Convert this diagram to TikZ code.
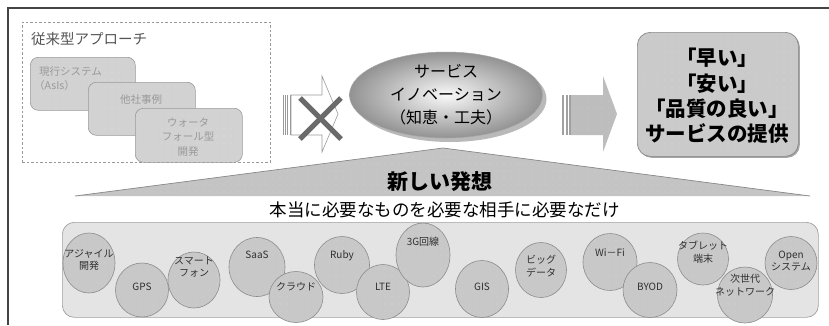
\documentclass[tikz,border=0pt]{standalone}
\usepackage{fontspec}
\setmainfont{Noto Sans CJK JP}
\usetikzlibrary{shapes.geometric,shadows,patterns.meta}
\definecolor{framec}{HTML}{444444}
\definecolor{dashc}{HTML}{999999}
\definecolor{lboxfill}{HTML}{D2D2D2}
\definecolor{lboxdraw}{HTML}{9A9A9A}
\definecolor{lboxtext}{HTML}{999999}
\definecolor{titlec}{HTML}{555555}
\definecolor{trifill}{HTML}{C4C4C4}
\definecolor{tridraw}{HTML}{888888}
\definecolor{basefill}{HTML}{E4E4E4}
\definecolor{basedraw}{HTML}{A0A0A0}
\definecolor{circfill}{HTML}{C8C8C8}
\definecolor{circdraw}{HTML}{8C8C8C}
\definecolor{circtext}{HTML}{303030}
\definecolor{resfill}{HTML}{CACACA}
\definecolor{resdraw}{HTML}{888888}
\definecolor{arrfill}{HTML}{BDBDBD}
\definecolor{xcol}{HTML}{6A6A6A}
\tikzset{
  dotty/.style={postaction={pattern={Dots[distance=7pt,radius=0.45pt]}, pattern color=white!85!gray}},
  lbox/.style={rounded corners=8pt, fill=lboxfill, draw=lboxdraw, line width=0.6pt, anchor=north west, inner sep=0pt, dotty},
  lboxtxt/.style={text=lboxtext, font=\fontsize{10.5}{14.5}\selectfont, align=center, inner sep=0pt},
  circ/.style={ellipse, fill=circfill, draw=circdraw, line width=0.6pt, inner sep=0pt, dotty},
  ctxt/.style={text=circtext, font=\fontsize{10}{12.5}\selectfont, align=center, inner sep=0pt},
}
\begin{document}
\begin{tikzpicture}[x=1pt,y=-1pt]
\useasboundingbox (0,0) rectangle (829,325);
\fill[white] (0,0) rectangle (829,325);
% outer frame
\draw[framec, line width=1.3pt] (829,8) -- (8,8) -- (8,325);
% traditional approach
\node[draw=dashc, dash pattern=on 2.5pt off 2pt, line width=0.6pt, minimum width=248pt, minimum height=140pt, anchor=north west, inner sep=0pt] (trad) at (22,22) {};
\node[text=titlec, font=\fontsize{14.5}{17}\selectfont, anchor=west, inner sep=0pt] (tradtitle) at (31,39) {従来型アプローチ};
\node[lbox, minimum width=105pt, minimum height=53pt] (b1) at (30,57) {};
\node[lbox, minimum width=107pt, minimum height=53pt] (b2) at (88,82) {};
\node[lbox, minimum width=107pt, minimum height=54pt] (b3) at (135,108) {};
\node[lboxtxt, anchor=west] (t1a) at (39,72) {現行システム};
\node[lboxtxt, anchor=west] (t1b) at (34,86) {（AsIs）};
\node[lboxtxt] (t2) at (141,100) {他社事例};
\node[lboxtxt] (t3) at (188,137) {ウォータ\\フォール型\\開発};
% left arrow (crossed out)
\foreach \xx in {283,285.2,287.4,289.6}
  \fill[dashc] (\xx,95) rectangle ++(0.9,40);
\draw[lboxdraw, fill=white, line width=0.6pt] (291,95) -- (322,95) -- (322,76) -- (338,114) -- (322,152) -- (322,135) -- (291,135) -- cycle;
\draw[xcol, line width=5pt] (300,98) -- (341,139);
\draw[xcol, line width=5pt] (341,98) -- (300,139);
% innovation ellipse
\node[ellipse, minimum width=193pt, minimum height=86pt, inner sep=0pt, shading=radial, inner color=white!95!gray, outer color=gray!85, draw=gray!70, line width=0.5pt, drop shadow={shadow xshift=4pt, shadow yshift=-4pt, fill=gray!55, opacity=1}] (innov) at (446,95) {};
\node[font=\fontsize{16}{23}\selectfont, align=center, inner sep=0pt] (innovtxt) at (446,95) {サービス\\イノベーション\\（知恵・工夫）};
% right arrow
\foreach \xx in {562,565.5,569}
  \fill[arrfill!85!black] (\xx,95) rectangle ++(2,40);
\path[fill=arrfill, dotty] (571,95) -- (603,95) -- (603,76) -- (617,114) -- (603,152) -- (603,135) -- (571,135) -- cycle;
% result box
\node[rounded corners=13pt, fill=resfill, draw=resdraw, line width=0.7pt, minimum width=161pt, minimum height=124pt, anchor=north west, inner sep=0pt, dotty, drop shadow={shadow xshift=1.5pt, shadow yshift=-1.5pt, fill=gray!70, opacity=1}] (result) at (637,32) {};
\node[font=\bfseries\fontsize{20.5}{25.3}\selectfont, align=center, inner sep=0pt] (resulttxt) at (717,96) {「早い」\\「安い」\\「品質の良い」\\サービスの提供};
% new idea triangle
\coordinate (tl) at (75,196);
\coordinate (tt) at (443,148);
\coordinate (tr) at (810,196);
\path[fill=trifill, dotty] (tl) -- (tt) -- (tr) -- cycle;
\draw[tridraw, line width=0.7pt] (tl) -- (tt) -- (tr);
\node[font=\bfseries\fontsize{21}{24}\selectfont, inner sep=0pt] (idea) at (440,182) {新しい発想};
\node[font=\fontsize{17.5}{20}\selectfont, inner sep=0pt] (need) at (444.5,210) {本当に必要なものを必要な相手に必要なだけ};
% base box
\node[rounded corners=12pt, fill=basefill, draw=basedraw, line width=0.7pt, minimum width=756pt, minimum height=95pt, anchor=north west, inner sep=0pt, dotty] (base) at (62,222) {};
% circles
\node[circ, minimum width=52pt, minimum height=60pt] (c1) at (89,263) {};
\node[circ, minimum width=53pt, minimum height=54pt] (c2) at (142,290) {};
\node[circ, minimum width=52pt, minimum height=56pt] (c3) at (194,280) {};
\node[circ, minimum width=56pt, minimum height=59pt] (c4) at (257,267) {};
\node[circ, minimum width=54pt, minimum height=51pt] (c5) at (296,297) {};
\node[circ, minimum width=55pt, minimum height=57pt] (c6) at (342,265) {};
\node[circ, minimum width=53pt, minimum height=55pt] (c7) at (383,292) {};
\node[circ, minimum width=54pt, minimum height=64pt] (c8) at (423,255) {};
\node[circ, minimum width=53pt, minimum height=57pt] (c9) at (482,289) {};
\node[circ, minimum width=51pt, minimum height=55pt] (c10) at (541,270) {};
\node[circ, minimum width=54pt, minimum height=57pt] (c11) at (610,262) {};
\node[circ, minimum width=54pt, minimum height=55pt] (c12) at (650,290) {};
\node[circ, minimum width=51pt, minimum height=52pt] (c13) at (703,259) {};
\node[circ, minimum width=52pt, minimum height=53pt] (c15) at (791,263) {};
\node[circ, minimum width=55pt, minimum height=56pt] (c14) at (745,295) {};
% circle labels
\node[ctxt] (l1) at (89,260) {アジャイル\\開発};
\node[ctxt] (l2) at (142,287) {GPS};
\node[ctxt] (l3) at (194,267) {スマート\\フォン};
\node[ctxt] (l4) at (257,255) {SaaS};
\node[ctxt] (l5) at (296,287) {クラウド};
\node[ctxt] (l6) at (342,256) {Ruby};
\node[ctxt] (l7) at (383,287) {LTE};
\node[ctxt] (l8) at (423,242) {3G回線};
\node[ctxt] (l9) at (482,287) {GIS};
\node[ctxt] (l10) at (541,266) {ビッグ\\データ};
\node[ctxt] (l11) at (610,253) {Wi－Fi};
\node[ctxt] (l12) at (650,287) {BYOD};
\node[ctxt] (l13) at (703,252) {タブレット\\端末};
\node[ctxt] (l14) at (745,285) {次世代\\ネットワーク};
\node[ctxt] (l15) at (791,261) {Open\\システム};
\end{tikzpicture}
\end{document}
